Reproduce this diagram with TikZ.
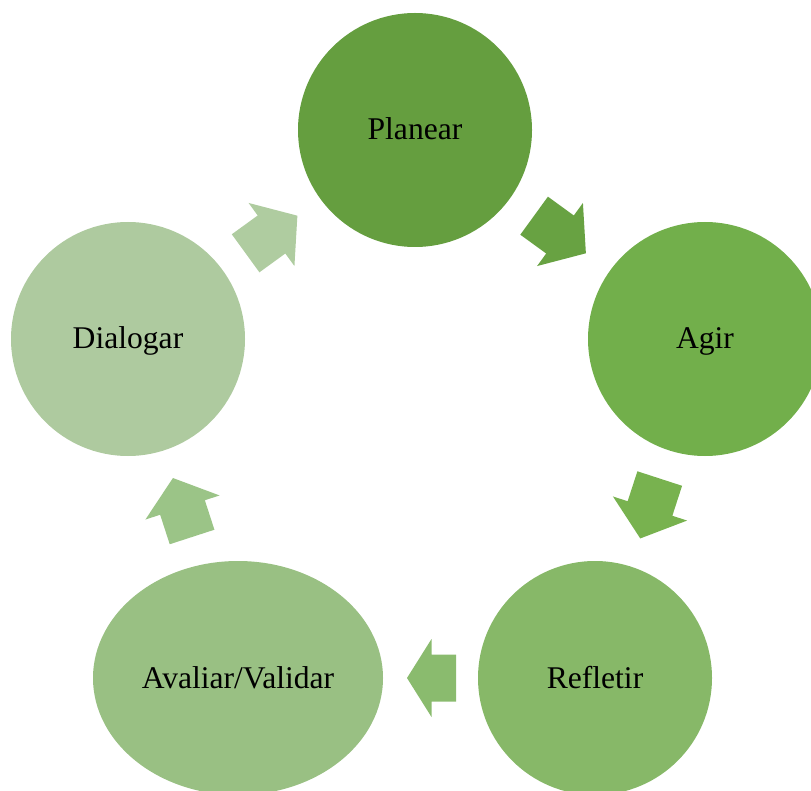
\documentclass[tikz,border=0pt]{standalone}
\usepackage{fontspec}
\setmainfont{Liberation Serif}
\definecolor{cPlan}{HTML}{659E3F}
\definecolor{cAgir}{HTML}{72AF4B}
\definecolor{cRef}{HTML}{87B868}
\definecolor{cAval}{HTML}{99C083}
\definecolor{cDial}{HTML}{AECA9F}
\definecolor{aOne}{HTML}{68A242}
\definecolor{aTwo}{HTML}{78B24F}
\definecolor{aThree}{HTML}{8ABB6E}
\definecolor{aFour}{HTML}{9BC487}
\definecolor{aFive}{HTML}{AFCCA0}
\tikzset{
  stage/.style={circle, minimum size=234pt, inner sep=0pt, draw=none},
  stageell/.style={ellipse, minimum width=290pt, minimum height=234pt, inner sep=0pt, draw=none},
  stagetext/.style={font=\fontsize{31.6}{36}\selectfont, text=black, inner sep=0pt},
}
\usetikzlibrary{shapes.geometric}
% #1 name, #2 angle, #3 length, #4 colour
\newcommand{\blockarr}[4]{%
  \begin{scope}[shift={(#1)}, rotate=#2]
    \fill[#4] (-#3/2,-23.5) -- (0,-23.5) -- (0,-39) -- (#3/2,0) -- (0,39) -- (0,23.5) -- (-#3/2,23.5) -- cycle;
  \end{scope}}
\begin{document}
\begin{tikzpicture}[x=1pt,y=-1pt]
\useasboundingbox (0,0) rectangle (811,791);
\node[stage, fill=cPlan] (plan) at (415,130) {};
\node[stage, fill=cAgir] (agir) at (705,339) {};
\node[stage, fill=cRef] (ref) at (595,678) {};
\node[stageell, fill=cAval] (aval) at (238,678) {};
\node[stage, fill=cDial] (dial) at (128,339) {};
\node[stagetext, anchor=base] (tplan) at ([yshift=-10pt]plan.center) {Planear};
\node[stagetext, anchor=base] (tagir) at ([yshift=-10pt]agir.center) {Agir};
\node[stagetext, anchor=base] (tref) at ([yshift=-10pt]ref.center) {Refletir};
\node[stagetext, anchor=base] (taval) at ([yshift=-10pt]aval.center) {Avaliar/Validar};
\node[stagetext, anchor=base] (tdial) at ([yshift=-10pt]dial.center) {Dialogar};
\coordinate (g1) at (560,234.5);
\coordinate (g2) at (650,508.5);
\coordinate (g3) at (431.5,678);
\coordinate (g4) at (182.5,507.5);
\coordinate (g5) at (271.5,234.5);
\blockarr{g1}{-36}{64}{aOne}
\blockarr{g2}{-108}{63}{aTwo}
\blockarr{g3}{180}{49}{aThree}
\blockarr{g4}{108}{62}{aFour}
\blockarr{g5}{36}{64}{aFive}
\end{tikzpicture}
\end{document}
